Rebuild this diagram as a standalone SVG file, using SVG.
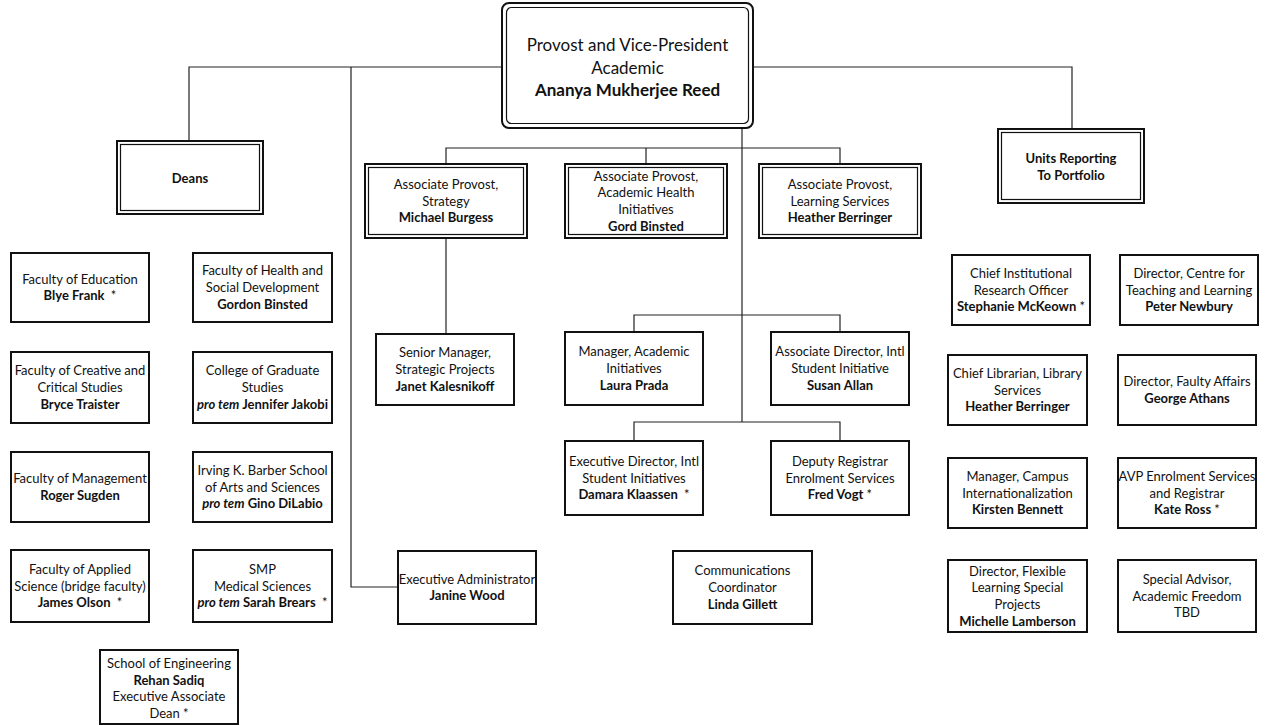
<svg xmlns="http://www.w3.org/2000/svg" width="1265" height="725" viewBox="0 0 1265 725">
<style>
.bx{fill:#fff;stroke:#111;stroke-width:2}
.o{fill:#fff;stroke:#111;stroke-width:2}
.i{fill:none;stroke:#111;stroke-width:1.2}
.ln{fill:none;stroke:#222;stroke-width:1.2}
text{font-family:Lato,"Liberation Sans",sans-serif;font-size:13px;fill:#111;text-anchor:middle}
.big{font-size:17px}
.b{font-weight:bold}
.it{font-style:italic;font-weight:bold}
.n{font-weight:normal}
</style>
<rect width="1265" height="725" fill="#fff"/>
<g id="connectors">
<path class="ln" d="M502,67 H189 V141"/>
<path class="ln" d="M351,67 V587 H398"/>
<path class="ln" d="M753,67 H1072 V129"/>
<path class="ln" d="M742,128 V422"/>
<path class="ln" d="M446,164 V148 H840 V164 M646,148 V164"/>
<path class="ln" d="M446,238 V334"/>
<path class="ln" d="M634,332 V315 H840 V332"/>
<path class="ln" d="M634,441 V422 H840 V441"/>
</g>
<g id="provost">
<rect class="o" x="502" y="3" width="251" height="125" rx="7" stroke-width="2.5"/>
<rect class="i" x="506.5" y="7.5" width="242" height="116" rx="5" stroke-width="1.5"/>
<text class="big" x="627.5" y="51">Provost and Vice-President</text>
<text class="big" x="627.5" y="74">Academic</text>
<text class="big b" x="627.5" y="96">Ananya Mukherjee Reed</text>
</g>
<g id="deans">
<rect class="o" x="117" y="141" width="146" height="73"/>
<rect class="i" x="120.5" y="144.5" width="139" height="66"/>
<text class="b" x="190" y="182.5">Deans</text>
</g>
<g id="units">
<rect class="o" x="998" y="129" width="146" height="74"/>
<rect class="i" x="1001.5" y="132.5" width="139" height="67"/>
<text class="b" x="1071" y="162.5">Units Reporting</text>
<text class="b" x="1071" y="179.5">To Portfolio</text>
</g>
<g id="ap-strategy">
<rect class="o" x="365" y="164" width="162" height="74"/>
<rect class="i" x="368.5" y="167.5" width="155" height="67"/>
<text x="446" y="188.8">Associate Provost,</text>
<text x="446" y="205.5">Strategy</text>
<text class="b" x="446" y="222.2">Michael Burgess</text>
</g>
<g id="ap-health">
<rect class="o" x="565" y="164" width="162" height="74"/>
<rect class="i" x="568.5" y="167.5" width="155" height="67"/>
<text x="646" y="180.5">Associate Provost,</text>
<text x="646" y="197.2">Academic Health</text>
<text x="646" y="213.9">Initiatives</text>
<text class="b" x="646" y="230.6">Gord Binsted</text>
</g>
<g id="ap-learning">
<rect class="o" x="759" y="164" width="162" height="74"/>
<rect class="i" x="762.5" y="167.5" width="155" height="67"/>
<text x="840" y="188.8">Associate Provost,</text>
<text x="840" y="205.5">Learning Services</text>
<text class="b" x="840" y="222.2">Heather Berringer</text>
</g>
<g id="f-education">
<rect class="bx" x="11" y="253" width="138" height="69"/>
<text x="80" y="283.6">Faculty of Education</text>
<text class="b" x="80" y="300.3">Blye Frank&#160;&#160;<tspan class="n">*</tspan></text>
</g>
<g id="f-health">
<rect class="bx" x="193" y="253" width="139" height="69"/>
<text x="262.5" y="275.3">Faculty of Health and</text>
<text x="262.5" y="292">Social Development</text>
<text class="b" x="262.5" y="308.7">Gordon Binsted</text>
</g>
<g id="f-creative">
<rect class="bx" x="11" y="352" width="138" height="71"/>
<text x="80" y="375.3">Faculty of Creative and</text>
<text x="80" y="392">Critical Studies</text>
<text class="b" x="80" y="408.7">Bryce Traister</text>
</g>
<g id="f-graduate">
<rect class="bx" x="193" y="352" width="139" height="71"/>
<text x="262.5" y="375.3">College of Graduate</text>
<text x="262.5" y="392">Studies</text>
<text class="b" x="262.5" y="408.7"><tspan class="it">pro tem</tspan> Jennifer Jakobi</text>
</g>
<g id="f-management">
<rect class="bx" x="11" y="452" width="138" height="70"/>
<text x="80" y="483.2">Faculty of Management</text>
<text class="b" x="80" y="499.9">Roger Sugden</text>
</g>
<g id="f-barber">
<rect class="bx" x="193" y="452" width="139" height="70"/>
<text x="262.5" y="474.8">Irving K. Barber School</text>
<text x="262.5" y="491.5">of Arts and Sciences</text>
<text class="b" x="262.5" y="508.2"><tspan class="it">pro tem</tspan> Gino DiLabio</text>
</g>
<g id="f-applied">
<rect class="bx" x="11" y="550" width="138" height="72"/>
<text x="80" y="573.8">Faculty of Applied</text>
<text x="80" y="590.5">Science (bridge faculty)</text>
<text class="b" x="80" y="607.2">James Olson&#160;&#160;<tspan class="n">*</tspan></text>
</g>
<g id="f-smp">
<rect class="bx" x="193" y="550" width="139" height="72"/>
<text x="262.5" y="573.8">SMP</text>
<text x="262.5" y="590.5">Medical Sciences</text>
<text class="b" x="262.5" y="607.2"><tspan class="it">pro tem</tspan> Sarah Brears&#160;&#160;<tspan class="n">*</tspan></text>
</g>
<g id="f-engineering">
<rect class="bx" x="100" y="650" width="138" height="74"/>
<text x="169" y="668">School of Engineering</text>
<text class="b" x="169" y="684.7">Rehan Sadiq</text>
<text x="169" y="701.4">Executive Associate</text>
<text x="169" y="718">Dean *</text>
</g>
<g id="senior-manager">
<rect class="bx" x="376" y="334" width="138" height="71"/>
<text x="445" y="357.3">Senior Manager,</text>
<text x="445" y="374">Strategic Projects</text>
<text class="b" x="445" y="390.7">Janet Kalesnikoff</text>
</g>
<g id="manager-academic">
<rect class="bx" x="565" y="332" width="138" height="73"/>
<text x="634" y="356.3">Manager, Academic</text>
<text x="634" y="373">Initiatives</text>
<text class="b" x="634" y="389.7">Laura Prada</text>
</g>
<g id="assoc-director">
<rect class="bx" x="771" y="332" width="138" height="73"/>
<text x="840" y="356.3">Associate Director, Intl</text>
<text x="840" y="373">Student Initiative</text>
<text class="b" x="840" y="389.7">Susan Allan</text>
</g>
<g id="exec-director">
<rect class="bx" x="565" y="441" width="138" height="74"/>
<text x="634" y="465.8">Executive Director, Intl</text>
<text x="634" y="482.5">Student Initiatives</text>
<text class="b" x="634" y="499.2">Damara Klaassen&#160;&#160;<tspan class="n">*</tspan></text>
</g>
<g id="deputy-registrar">
<rect class="bx" x="771" y="441" width="138" height="74"/>
<text x="840" y="465.8">Deputy Registrar</text>
<text x="840" y="482.5">Enrolment Services</text>
<text class="b" x="840" y="499.2">Fred Vogt <tspan class="n">*</tspan></text>
</g>
<g id="exec-admin">
<rect class="bx" x="398" y="551" width="138" height="73"/>
<text x="467" y="583.6">Executive Administrator</text>
<text class="b" x="467" y="600.3">Janine Wood</text>
</g>
<g id="communications">
<rect class="bx" x="673" y="551" width="139" height="73"/>
<text x="742.5" y="575.3">Communications</text>
<text x="742.5" y="592">Coordinator</text>
<text class="b" x="742.5" y="608.7">Linda Gillett</text>
</g>
<g id="chief-research">
<rect class="bx" x="952" y="255" width="138" height="70"/>
<text x="1021" y="277.8">Chief Institutional</text>
<text x="1021" y="294.5">Research Officer</text>
<text class="b" x="1021" y="311.2">Stephanie McKeown <tspan class="n">*</tspan></text>
</g>
<g id="ctl-director">
<rect class="bx" x="1120" y="255" width="138" height="70"/>
<text x="1189" y="277.8">Director, Centre for</text>
<text x="1189" y="294.5">Teaching and Learning</text>
<text class="b" x="1189" y="311.2">Peter Newbury</text>
</g>
<g id="chief-librarian">
<rect class="bx" x="948" y="355" width="139" height="70"/>
<text x="1017.5" y="377.8">Chief Librarian, Library</text>
<text x="1017.5" y="394.5">Services</text>
<text class="b" x="1017.5" y="411.2">Heather Berringer</text>
</g>
<g id="faculty-affairs">
<rect class="bx" x="1118" y="355" width="138" height="70"/>
<text x="1187" y="386.2">Director, Faulty Affairs</text>
<text class="b" x="1187" y="402.9">George Athans</text>
</g>
<g id="campus-intl">
<rect class="bx" x="948" y="458" width="139" height="70"/>
<text x="1017.5" y="480.8">Manager, Campus</text>
<text x="1017.5" y="497.5">Internationalization</text>
<text class="b" x="1017.5" y="514.2">Kirsten Bennett</text>
</g>
<g id="avp-enrolment">
<rect class="bx" x="1118" y="458" width="138" height="70"/>
<text x="1187" y="480.8">AVP Enrolment Services</text>
<text x="1187" y="497.5">and Registrar</text>
<text class="b" x="1187" y="514.2">Kate Ross <tspan class="n">*</tspan></text>
</g>
<g id="flexible-learning">
<rect class="bx" x="948" y="560" width="139" height="72"/>
<text x="1017.5" y="575.5">Director, Flexible</text>
<text x="1017.5" y="592.2">Learning Special</text>
<text x="1017.5" y="608.9">Projects</text>
<text class="b" x="1017.5" y="625.6">Michelle Lamberson</text>
</g>
<g id="special-advisor">
<rect class="bx" x="1118" y="560" width="138" height="72"/>
<text x="1187" y="583.8">Special Advisor,</text>
<text x="1187" y="600.5">Academic Freedom</text>
<text x="1187" y="617.2">TBD</text>
</g>
</svg>
